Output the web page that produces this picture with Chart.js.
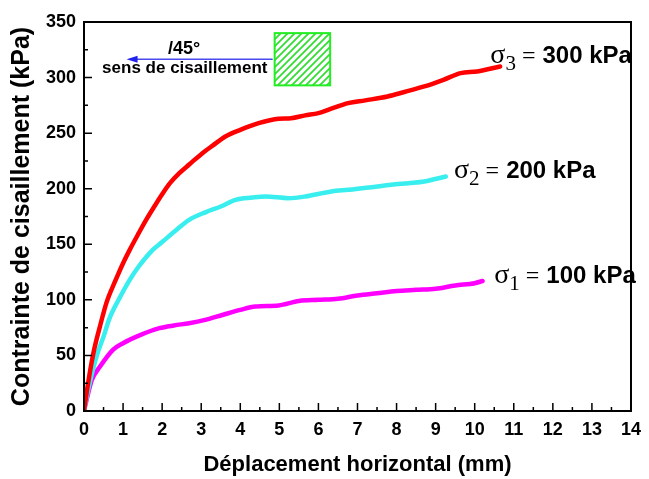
<!DOCTYPE html>
<html>
<head>
<meta charset="utf-8">
<script src="https://cdn.jsdelivr.net/npm/chart.js@4.4.1/dist/chart.umd.min.js"></script>
<style>
  body { margin: 0; background: #fff; }
  canvas { display: block; }
</style>
</head>
<body>
<canvas id="chart" width="649" height="479"></canvas>
<script>
// sigma3 = 300 kPa
const x300 = [0, 0.1, 0.24, 0.4, 0.58, 0.8, 1.0, 1.17, 1.4, 1.59, 1.8, 2.0, 2.2, 2.44, 2.7, 3.03, 3.3, 3.62, 4.0, 4.47, 4.98, 5.3, 5.66, 6.0, 6.33, 6.76, 7.2, 7.77, 8.2, 8.71, 9.2, 9.64, 10.06, 10.65];
const y300 = [0, 24, 52, 75, 98, 117, 133, 145, 160, 172, 184, 195, 205, 214, 222, 232, 239, 247, 253, 259, 263, 263.5, 266, 268, 272, 277, 279.5, 283, 287, 292, 298, 304, 305.5, 310];
// sigma2 = 200 kPa
const x200 = [0, 0.1, 0.32, 0.5, 0.66, 0.9, 1.17, 1.4, 1.76, 2.0, 2.3, 2.69, 3.12, 3.5, 3.88, 4.3, 4.64, 5.23, 5.66, 6.33, 6.76, 7.3, 7.86, 8.3, 8.71, 9.26];
const y200 = [0, 18, 49, 67, 84, 101, 118, 130, 145, 152, 161, 172, 179, 184, 190, 192, 193, 191.5, 193, 197.5, 199, 201, 203.5, 205, 206.5, 211];
// sigma1 = 100 kPa
const x100 = [0, 0.1, 0.2, 0.41, 0.74, 1.0, 1.42, 1.93, 2.3, 2.69, 3.1, 3.54, 4.0, 4.39, 4.98, 5.5, 6.0, 6.5, 7.0, 7.5, 8.0, 8.5, 9.0, 9.5, 10.0, 10.2];
const y100 = [0, 15, 28, 40, 55, 61, 68, 74.5, 77, 79, 82, 86.4, 91, 94, 95, 99, 100, 101, 104, 106, 108, 109, 110, 113, 115, 117];

const xTicks = [0, 1, 2, 3, 4, 5, 6, 7, 8, 9, 10, 11, 12, 13, 14];
const yTicks = [0, 50, 100, 150, 200, 250, 300, 350];

const curveLabels = [
    { sub: '3', text: '300 kPa', x: 10.4, y: 313 },
    { sub: '2', text: '200 kPa', x: 9.47, y: 210 },
    { sub: '1', text: '100 kPa', x: 10.5, y: 115 }
];

const toPoints = (xs, ys) => xs.map((x, i) => ({ x: x, y: ys[i] }));

const SANS = '"Liberation Sans", Arial, sans-serif';
const SERIF = '"Liberation Serif", "Times New Roman", serif';

const frame = {
    id: 'frame',
    afterDraw(chart) {
        const ctx = chart.ctx;
        const a = chart.chartArea;
        const sx = chart.scales.x;
        const sy = chart.scales.y;
        ctx.save();
        ctx.strokeStyle = '#000';
        ctx.lineWidth = 2;
        ctx.strokeRect(a.left, a.top, a.right - a.left, a.bottom - a.top);
        // inward ticks, major and minor
        ctx.lineWidth = 1.5;
        ctx.beginPath();
        for (let v = 0; v <= 14; v += 0.5) {
            const p = sx.getPixelForValue(v);
            const len = Number.isInteger(v) ? 8 : 4;
            ctx.moveTo(p, a.bottom);
            ctx.lineTo(p, a.bottom - len);
        }
        for (let v = 0; v <= 350; v += 25) {
            const p = sy.getPixelForValue(v);
            const len = v % 50 === 0 ? 8 : 4;
            ctx.moveTo(a.left, p);
            ctx.lineTo(a.left + len, p);
        }
        ctx.stroke();

        // stress labels next to curves
        ctx.textBaseline = 'alphabetic';
        ctx.fillStyle = '#000';
        curveLabels.forEach(l => {
            let px = sx.getPixelForValue(l.x);
            const py = sy.getPixelForValue(l.y);
            ctx.font = '28px ' + SERIF;
            ctx.fillText('\u03c3', px, py);
            px += ctx.measureText('\u03c3').width;
            ctx.font = '21px ' + SERIF;
            ctx.fillText(l.sub, px, py + 7);
            px += ctx.measureText(l.sub).width + 6;
            ctx.font = '24px ' + SERIF;
            ctx.fillText('=', px, py);
            px += ctx.measureText('=').width + 7;
            ctx.font = 'bold 24px ' + SANS;
            ctx.fillText(l.text, px, py);
        });

        // shear direction sketch
        const bx0 = sx.getPixelForValue(4.88), bx1 = sx.getPixelForValue(6.3);
        const by0 = sy.getPixelForValue(340), by1 = sy.getPixelForValue(293);
        ctx.save();
        ctx.beginPath();
        ctx.rect(bx0, by0, bx1 - bx0, by1 - by0);
        ctx.clip();
        ctx.strokeStyle = '#33dd33';
        ctx.lineWidth = 1.8;
        ctx.beginPath();
        for (let d = -60; d < 120; d += 7) {
            ctx.moveTo(bx0 + d, by1);
            ctx.lineTo(bx0 + d + (by1 - by0), by0);
        }
        ctx.stroke();
        ctx.restore();
        ctx.strokeStyle = '#22ee22';
        ctx.lineWidth = 2;
        ctx.strokeRect(bx0, by0, bx1 - bx0, by1 - by0);

        const ay = sy.getPixelForValue(316.5);
        const ax0 = sx.getPixelForValue(1.09);
        ctx.strokeStyle = '#4a4af0';
        ctx.fillStyle = '#2222ee';
        ctx.lineWidth = 1.5;
        ctx.beginPath();
        ctx.moveTo(bx0 - 2, ay);
        ctx.lineTo(ax0 + 8, ay);
        ctx.stroke();
        ctx.beginPath();
        ctx.moveTo(ax0, ay);
        ctx.lineTo(ax0 + 11, ay - 3.5);
        ctx.lineTo(ax0 + 11, ay + 3.5);
        ctx.closePath();
        ctx.fill();

        ctx.fillStyle = '#000';
        ctx.textAlign = 'center';
        ctx.font = 'bold 18px ' + SANS;
        ctx.fillText('/45\u00b0', sx.getPixelForValue(2.56), ay - 5);
        ctx.font = 'bold 17px ' + SANS;
        ctx.fillText('sens de cisaillement', sx.getPixelForValue(2.58), ay + 14);
        ctx.restore();
    }
};

new Chart(document.getElementById('chart'), {
    type: 'line',
    data: {
        datasets: [
            { label: 's3', data: toPoints(x300, y300), borderColor: '#ff0000' },
            { label: 's2', data: toPoints(x200, y200), borderColor: '#38eeee' },
            { label: 's1', data: toPoints(x100, y100), borderColor: '#ff00ff' }
        ]
    },
    options: {
        responsive: false,
        animation: false,
        devicePixelRatio: 1,
        layout: { padding: { left: 0, top: 22, right: 14, bottom: 0 } },
        elements: {
            line: { borderWidth: 4.5, cubicInterpolationMode: 'monotone', borderCapStyle: 'round' },
            point: { radius: 0 }
        },
        plugins: { legend: { display: false }, tooltip: { enabled: false } },
        scales: {
            x: {
                type: 'linear', min: 0, max: 14,
                afterBuildTicks: s => { s.ticks = xTicks.map(v => ({ value: v })); },
                afterFit: s => { s.height = 68; },
                grid: { display: false, drawTicks: false },
                border: { display: false },
                ticks: { color: '#000', padding: 8, font: { family: SANS, size: 18, weight: 'bold' } },
                title: { display: true, text: 'Déplacement horizontal (mm)', color: '#000', padding: { bottom: 1 },
                         font: { family: SANS, size: 22, weight: 'bold' } }
            },
            y: {
                type: 'linear', min: 0, max: 350,
                afterBuildTicks: s => { s.ticks = yTicks.map(v => ({ value: v })); },
                afterFit: s => { s.width = 84; },
                grid: { display: false, drawTicks: false },
                border: { display: false },
                ticks: { color: '#000', padding: 8, font: { family: SANS, size: 18, weight: 'bold' } },
                title: { display: true, text: 'Contrainte de cisaillement (kPa)', color: '#000', padding: { top: 7 },
                         font: { family: SANS, size: 25, weight: 'bold' } }
            }
        }
    },
    plugins: [frame]
});
</script>
</body>
</html>
